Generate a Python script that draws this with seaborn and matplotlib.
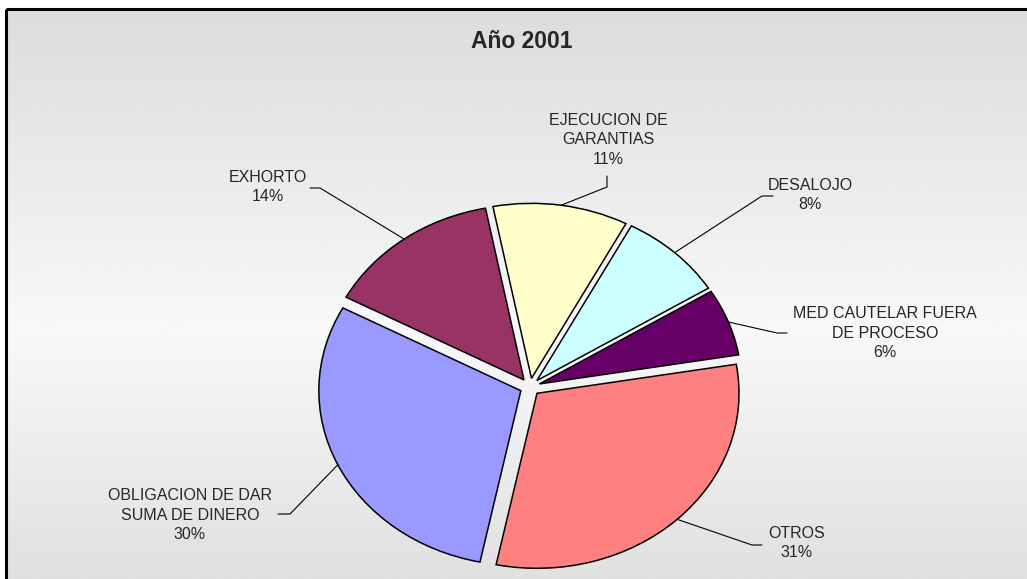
import numpy as np
import matplotlib
matplotlib.use("Agg")
import matplotlib.pyplot as plt
import seaborn as sns

# Data (clockwise from the top, as in the original Excel chart)
categories = ["EJECUCION DE\nGARANTIAS", "DESALOJO", "MED CAUTELAR FUERA\nDE PROCESO",
              "OTROS", "OBLIGACION DE DAR\nSUMA DE DINERO", "EXHORTO"]
values = [10.8, 8.4, 6.2, 30.9, 29.6, 14.1]
colors = ["#FFFFCC", "#CCFFFF", "#660066", "#FF8080", "#9999FF", "#993366"]
title = "Año 2001"

# label layout in image pixels: (knee, line end, text centre)
label_layout = [
    ((607, 187), (607, 176), (608, 140)),
    ((762, 196), (773, 196), (810, 195)),
    ((777, 333), (787, 333), (885, 333)),
    ((752, 545), (762, 545), (797, 543)),
    ((290, 514), (278, 514), (190, 515)),
    ((320, 188), (310, 188), (268, 187)),
]

sns.set_theme(style="white")
plt.rcParams["font.family"] = ["Liberation Sans", "DejaVu Sans"]

W, H = 1027, 579
fig = plt.figure(figsize=(W / 100, H / 100), dpi=100)
fig.patch.set_facecolor("white")

# background gradient panel (axes slightly larger than the figure so no edge shows)
pad = 20
bg = fig.add_axes([0, -pad / H, (W + pad) / W, (H + pad) / H])
bg.axis("off")
ys = np.linspace(9, H + pad, 200)
shade = np.interp(ys, [9, 330, H], [220, 248, 224]) / 255.0
grad = np.repeat(shade[:, None], 2, axis=1)
bg.imshow(grad, cmap="gray", vmin=0, vmax=1, extent=[6, W + pad, H + pad, 9],
          aspect="auto", interpolation="bilinear", zorder=0)
bg.set_xlim(0, W + pad)
bg.set_ylim(H + pad, 0)
bg.plot([6, 6], [9, H + pad], color="black", lw=2.2, solid_capstyle="butt", zorder=2)
bg.plot([6, W + pad], [9, 9], color="black", lw=2.2, solid_capstyle="butt", zorder=2)
bg.text(522, 41, title, ha="center", va="center", fontsize=16.5, fontweight="bold")

# pie axes (elliptical: rx=202 px, ry=175 px)
cx, cy, rx, ry, lim = 530, 387, 202, 175, 1.3
pie_ax = fig.add_axes([(cx - lim * rx) / W, (H - cy - lim * ry) / H,
                       2 * lim * rx / W, 2 * lim * ry / H])
explode = [0.05] * len(values)
wedges, _ = pie_ax.pie(values, colors=colors, startangle=101, counterclock=False,
                       explode=explode, radius=1,
                       wedgeprops=dict(edgecolor="black", linewidth=1.1))
pie_ax.set_aspect("auto")
pie_ax.set_xlim(-lim, lim)
pie_ax.set_ylim(-lim, lim)
pie_ax.axis("off")

# overlay for leader lines and labels
ov = fig.add_axes([0, 0, 1, 1])
ov.set_xlim(0, W)
ov.set_ylim(H, 0)
ov.axis("off")
total = sum(values)
fig.canvas.draw()
for w, name, val, (knee, end, txt) in zip(wedges, categories, values, label_layout):
    mid = np.deg2rad((w.theta1 + w.theta2) / 2)
    px, py = pie_ax.transData.transform((1.05 * np.cos(mid), 1.05 * np.sin(mid)))
    py = H - py
    ov.plot([px, knee[0], end[0]], [py, knee[1], end[1]], color="black", lw=0.8)
    ov.text(txt[0], txt[1], f"{name}\n{round(val * 100 / total)}%", ha="center", va="center",
            multialignment="center", fontsize=11.5, linespacing=1.4)

fig.savefig("out.png", dpi=100)
